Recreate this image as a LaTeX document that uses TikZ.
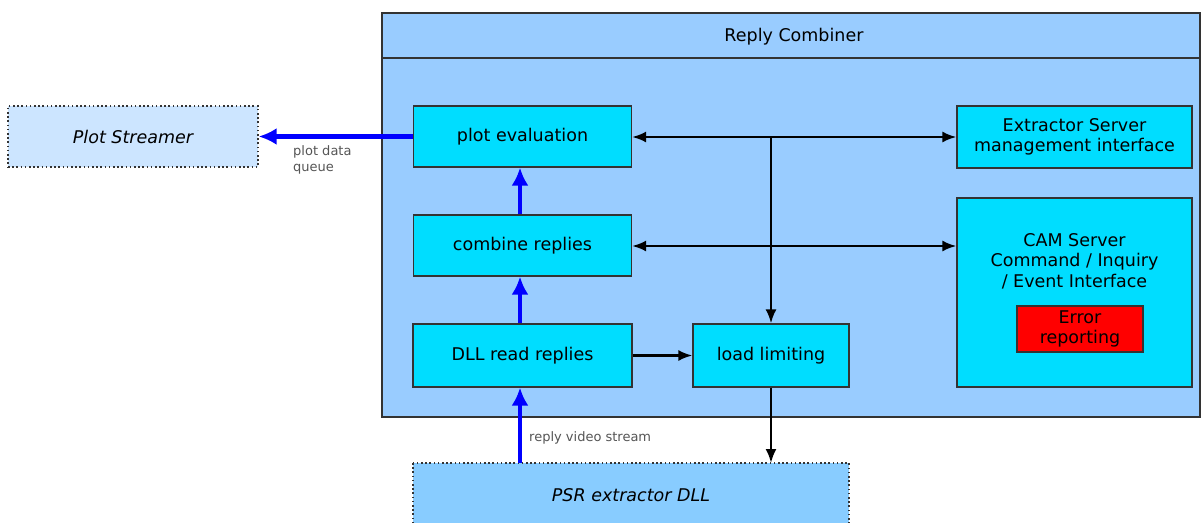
\documentclass[tikz,border=0pt]{standalone}
\usepackage{fontspec}
\setmainfont{DejaVu Sans}
\usetikzlibrary{arrows.meta}
\definecolor{combinerfill}{HTML}{99CCFF}
\definecolor{unitfill}{HTML}{00DDFF}
\definecolor{streamfill}{HTML}{CCE5FF}
\definecolor{dllfill}{HTML}{88CCFF}
\definecolor{labelgray}{HTML}{555555}
\tikzset{
  x=1pt, y=-1pt,
  boxfont/.style={font=\fontsize{17.5}{20.5}\selectfont},
  unit/.style={draw=black!80, line width=1.2pt, fill=unitfill, inner sep=0pt,
    boxfont, align=center},
  external/.style={draw=black!80, line width=1.3pt, dash pattern=on 1.6pt off 2.6pt, inner sep=0pt,
    font=\fontsize{17.5}{20.5}\selectfont\itshape},
  ctrl/.style={draw=black, line width=2.4pt, -{Latex[length=14pt,width=11pt]}},
  ctrlboth/.style={ctrl, {Latex[length=14pt,width=11pt]}-{Latex[length=14pt,width=11pt]}},
  data/.style={draw=blue, line width=4.5pt, -{Latex[length=18pt,width=17pt]}},
  note/.style={text=labelgray, font=\fontsize{13}{16}\selectfont, inner sep=0pt, align=left}
}
\begin{document}
\begin{tikzpicture}
\useasboundingbox (0,0) rectangle (1201,522);
\clip (0,0) rectangle (1201,522);
\fill[white] (0,0) rectangle (1201,522);

% Reply Combiner container with title strip
\draw[fill=combinerfill, draw=black!80, line width=1.2pt] (382,13) rectangle (1200,417);
\draw[black!80, line width=1.2pt] (382,58) -- (1200,58);
\node[boxfont] (title) at (794,37) {Reply Combiner};

% external components
\node[external, fill=streamfill, minimum width=250pt, minimum height=61pt] (stream) at (133,136.5) {Plot Streamer};
\draw[external, fill=dllfill] (413,463) rectangle (849,540);
\coordinate (dlltop) at (520,463);
\coordinate (dlltop2) at (771,463);
\node[font=\fontsize{17.5}{20.5}\selectfont\itshape] (dll) at (631,495) {PSR extractor DLL};

% processing units
\node[unit, minimum width=218pt, minimum height=61pt] (eval) at (522.5,136.5) {plot evaluation};
\node[unit, minimum width=218pt, minimum height=61pt] (combine) at (522.5,245.5) {combine replies};
\node[unit, minimum width=219pt, minimum height=63pt] (read) at (522.5,355.5) {DLL read replies};
\node[unit, minimum width=156pt, minimum height=63pt] (load) at (771,355.5) {load limiting};
\node[unit, minimum width=235pt, minimum height=62pt] (mgmt) at (1074.5,137) {Extractor Server\\management interface};
\node[unit, minimum width=235pt, minimum height=189pt] (cam) at (1074.5,292.5) {};
\node[boxfont, align=center] (camtxt) at (1074.5,261) {CAM Server\\Command / Inquiry\\/ Event Interface};
\node[unit, fill=red, minimum width=126pt, minimum height=46pt] (err) at (1080,329) {Error\\reporting};

% control connections
\coordinate (j1) at (771,137);
\coordinate (j2) at (771,246);
\draw[ctrlboth] (eval.east |- j1) -- (mgmt.west |- j1);
\draw[ctrlboth] (combine.east |- j2) -- (cam.west |- j2);
\draw[ctrl] (j1) -- (load.north);
\draw[ctrl] (read.east) -- (load.west);
\draw[ctrl] (load.south) -- (dlltop2);

% data flow
\draw[data] (eval.west) -- (stream.east);
\draw[data] (combine.north -| 520,0) -- (eval.south -| 520,0);
\draw[data] (read.north -| 520,0) -- (combine.south -| 520,0);
\draw[data, line cap=butt] (dlltop) -- (read.south -| 520,0);

% labels
\node[note, anchor=north west] (qlab) at (293,145) {plot data\\queue};
\node[note, anchor=west] (vlab) at (529,438) {reply video stream};
\end{tikzpicture}
\end{document}
